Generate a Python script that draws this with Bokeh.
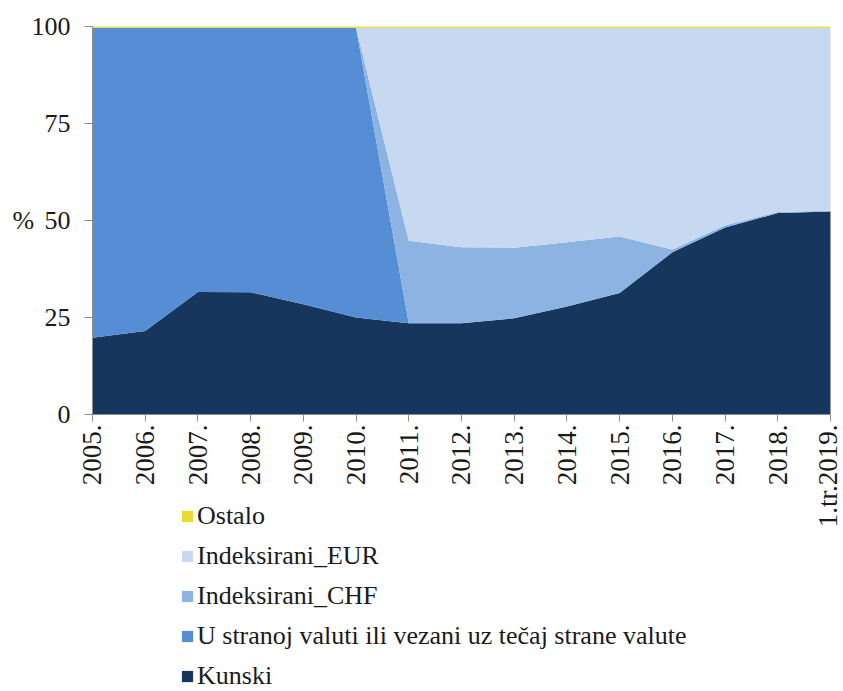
import math
from bokeh.plotting import figure
from bokeh.models import ColumnDataSource, Range1d, FixedTicker, Legend, LegendItem, Label
from bokeh.embed import file_html
from bokeh.resources import INLINE

categories = ["2005.", "2006.", "2007.", "2008.", "2009.", "2010.", "2011.", "2012.",
              "2013.", "2014.", "2015.", "2016.", "2017.", "2018.", "1.tr.2019."]
kunski = [19.8, 21.5, 31.6, 31.5, 28.4, 25.0, 23.5, 23.5, 24.8, 27.8, 31.3, 41.8, 48.2, 51.9, 52.3]
u_stranoj = [79.9, 78.2, 68.1, 68.2, 71.3, 74.7, 0.0, 0.0, 0.0, 0.0, 0.0, 0.0, 0.0, 0.0, 0.0]
indeks_chf = [0.0, 0.0, 0.0, 0.0, 0.0, 0.0, 21.3, 19.6, 18.2, 16.6, 14.6, 0.7, 0.6, 0.3, 0.2]
indeks_eur = [0.0, 0.0, 0.0, 0.0, 0.0, 0.0, 54.9, 56.6, 56.7, 55.3, 53.8, 57.2, 50.9, 47.5, 47.2]
ostalo = [0.3] * 15
y_ticks = [0, 25, 50, 75, 100]

series_names = ["Kunski", "U stranoj valuti ili vezani uz tečaj strane valute",
                "Indeksirani_CHF", "Indeksirani_EUR", "Ostalo"]
keys = ["kunski", "u_stranoj", "chf", "eur", "ostalo"]
colors = ["#17365D", "#558ED5", "#8DB3E2", "#C6D9F1", "#E8DC2C"]

x = list(range(len(categories)))
source = ColumnDataSource(dict(x=x, kunski=kunski, u_stranoj=u_stranoj,
                               chf=indeks_chf, eur=indeks_eur, ostalo=ostalo))

FONT = "Liberation Serif"

# The frame covers the whole figure; both axes are pinned at 0 so that the
# tick labels, the "%" sign and the legend all lie inside it.
p = figure(width=843, height=691, output_backend="svg", toolbar_location=None,
           x_range=Range1d(-1.745, 14.247), y_range=Range1d(-71.4, 106.7),
           min_border_left=0, min_border_right=0, min_border_top=0, min_border_bottom=0)
p.outline_line_color = None
p.xgrid.visible = False
p.ygrid.visible = False

renderers = p.varea_stack(stackers=keys, x="x", color=colors, source=source)

# y axis
p.yaxis.fixed_location = 0
p.yaxis.ticker = FixedTicker(ticks=y_ticks)
p.yaxis.bounds = (0, 100)
p.yaxis.major_label_text_font = FONT
p.yaxis.major_label_text_font_size = "26px"
p.yaxis.major_label_text_color = "#1a1a1a"
p.yaxis.axis_line_color = "#8c8c8c"
p.yaxis.major_tick_line_color = "#8c8c8c"
p.yaxis.major_tick_out = 8
p.yaxis.major_tick_in = 0
p.yaxis.minor_tick_line_color = None
p.yaxis.major_label_standoff = 14

pct = Label(x=12, x_units="screen", y=50, y_units="data", text="%",
            text_font=FONT, text_font_size="26px", text_color="#1a1a1a",
            text_baseline="middle", text_align="left")
p.add_layout(pct)

# x axis
p.xaxis.fixed_location = 0
p.xaxis.ticker = FixedTicker(ticks=x)
p.xaxis.bounds = (0, len(categories) - 1)
p.xaxis.major_label_overrides = {i: c for i, c in enumerate(categories)}
p.xaxis.major_label_orientation = math.pi / 2
p.xaxis.major_label_text_font = FONT
p.xaxis.major_label_text_font_size = "27px"
p.xaxis.major_label_text_color = "#1a1a1a"
p.xaxis.axis_line_color = "#8c8c8c"
p.xaxis.major_tick_line_color = "#8c8c8c"
p.xaxis.major_tick_out = 7
p.xaxis.major_tick_in = 0
p.xaxis.minor_tick_line_color = None
p.xaxis.major_label_standoff = 3

items = [LegendItem(label=series_names[i], renderers=[renderers[i]]) for i in reversed(range(5))]
legend = Legend(items=items, location=(180, 0), orientation="vertical",
                label_text_font=FONT, label_text_font_size="26px", label_text_color="#1a1a1a",
                glyph_width=14, glyph_height=14, label_standoff=3, spacing=10,
                label_height=28, padding=0, margin=0,
                background_fill_alpha=0, border_line_alpha=0)
p.add_layout(legend, "center")

open("out.html", "w").write(file_html(p, INLINE))
